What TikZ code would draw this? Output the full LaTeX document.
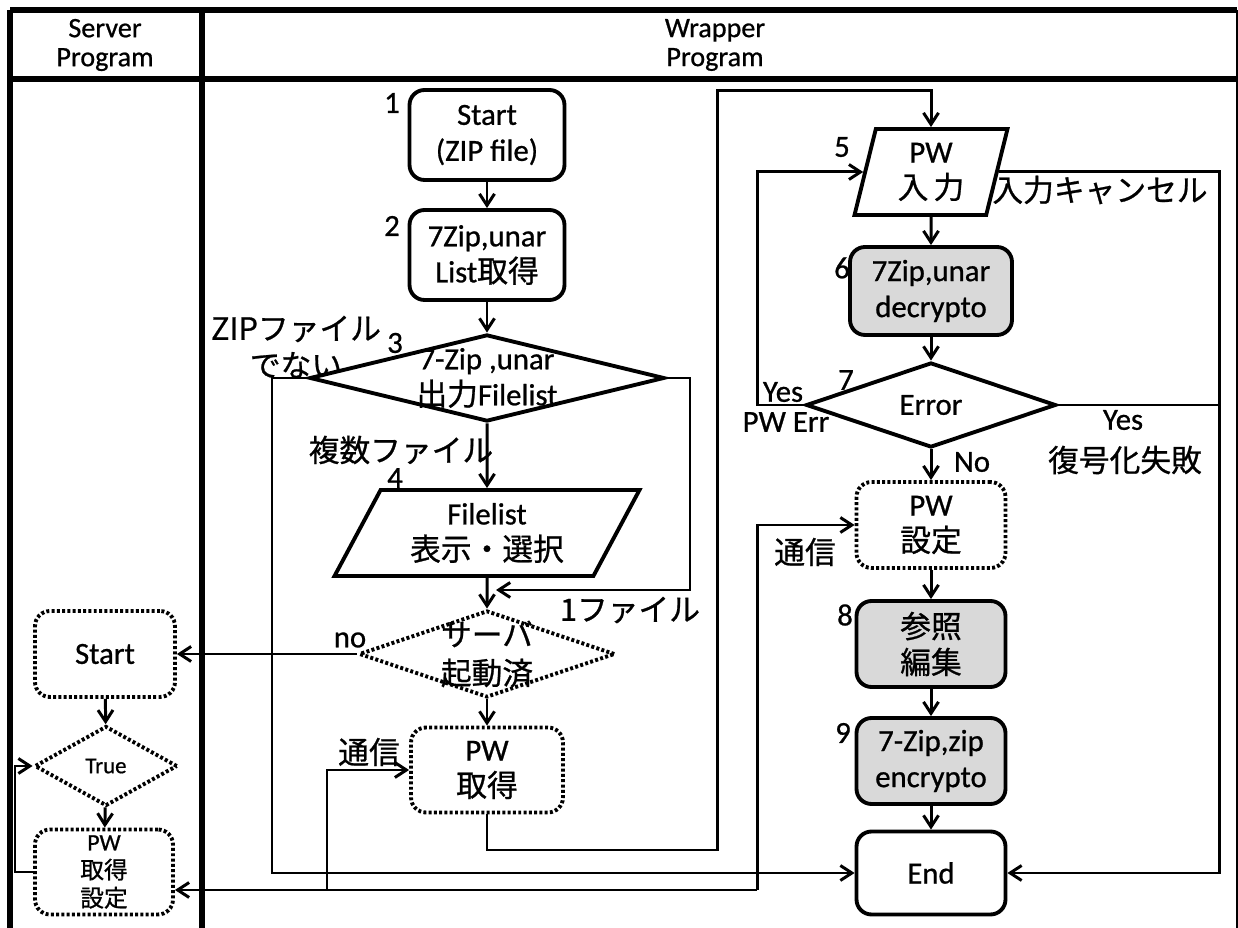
\documentclass[tikz,border=0pt]{standalone}
\usepackage{fontspec}
\setmainfont{Carlito}[FakeBold=0.8]
\newfontfamily\jp{Noto Sans CJK JP}[FakeBold=0.8]
\usetikzlibrary{positioning,arrows.meta,shapes.geometric}
\definecolor{boxgray}{gray}{0.85}
\tikzset{
  flow/.style={-{Straight Barb[length=2.3mm,width=3mm]}, line width=1.7pt},
  wire/.style={line width=1.7pt},
  frameline/.style={line width=3pt},
  dotline/.style={dash pattern=on 1.7pt off 1.3pt},
  stepbox/.style={draw, rounded corners=0.3cm, line width=2.2pt, minimum width=2.98cm, minimum height=1.72cm, align=center, inner sep=1pt},
  graybox/.style={stepbox, fill=boxgray},
  dotbox/.style={stepbox, dotline},
  iobox/.style={draw, trapezium, trapezium stretches body, line width=2.2pt, align=center, inner sep=1pt},
  decision/.style={draw, diamond, line width=2.2pt, inner sep=0pt},
  steplabel/.style={inner sep=0pt},
  edgelabel/.style={inner sep=0pt, align=center}
}
\begin{document}
\begin{tikzpicture}[x=0.02cm, y=-0.02cm, every node/.style={font=\fontsize{17.5}{20.5}\selectfont}]
  \useasboundingbox (0,0) rectangle (1238,928);
  \draw[frameline] (10,10) -- (1237,10);
  \draw[frameline] (10,79) -- (1237,79);
  \draw[frameline] (10,10) -- (10,928);
  \draw[frameline] (202,10) -- (202,928);
  \draw[line width=1.5pt] (1237,10) -- (1237,928);
  \node[align=center, inner sep=0pt, font=\fontsize{16}{16.5}\selectfont] (hserver) at (105,45) {Server\\Program};
  \node[align=center, inner sep=0pt, font=\fontsize{16}{16.5}\selectfont] (hwrapper) at (715,45) {Wrapper\\Program};

  \node[stepbox, minimum width=3.1cm, minimum height=1.8cm] (start) at (487,135) {Start\\(ZIP file)};
  \node[stepbox, minimum width=3.1cm, minimum height=1.8cm] (list) at (487,255) {7Zip,unar\\List{\jp 取得}};
  \node[decision, minimum width=7.1cm, minimum height=1.74cm,
        label={[edgelabel]center:{7-Zip ,unar\\{\jp 出力}Filelist}}] (check) at (487,378) {};
  \node[iobox, trapezium left angle=54, trapezium right angle=126, minimum width=6.1cm, minimum height=1.72cm] (flist) at (487,533) {Filelist\\{\jp 表示・選択}};
  \node[decision, dotline, minimum width=5.12cm, minimum height=1.74cm,
        label={[edgelabel, font=\fontsize{17.5}{22}\selectfont\jp]center:{サーバ\\起動済}}] (srvchk) at (487,654) {};
  \node[dotbox, minimum width=3.04cm, minimum height=1.7cm] (pwget) at (487,770) {PW\\{\jp 取得}};

  \node[iobox, trapezium left angle=71, trapezium right angle=109, minimum width=3.06cm, minimum height=1.72cm] (pwin) at (931,172) {PW\\{\jp 入\,力}};
  \node[graybox, minimum width=3.24cm, minimum height=1.76cm] (decr) at (931,291) {7Zip,unar\\decrypto};
  \node[decision, minimum width=5cm, minimum height=1.7cm, label={[edgelabel]center:Error}] (err) at (931,405) {};
  \node[dotbox] (pwset) at (931,525) {PW\\{\jp 設定}};
  \node[graybox] (edit) at (931,644) {{\jp 参照}\\{\jp 編集}};
  \node[graybox] (encr) at (931,761) {7-Zip,zip\\encrypto};
  \node[stepbox, minimum height=1.66cm] (end) at (931,873) {End};

  \node[dotbox, minimum width=2.8cm] (sstart) at (105,654) {Start};
  \node[decision, dotline, minimum width=2.86cm, minimum height=1.6cm,
        label={[edgelabel, font=\fontsize{13}{15}\selectfont]center:True}] (strue) at (106,766) {};
  \node[dotbox, minimum width=2.76cm, minimum height=1.7cm, font=\fontsize{13.5}{16}\selectfont] (spw) at (104,872) {PW\\{\jp 取得}\\{\jp 設定}};

  \node[steplabel] at (392,103) {1};
  \node[steplabel] at (392,226) {2};
  \node[steplabel] at (395,343) {3};
  \node[steplabel] at (395,478) {4};
  \node[steplabel] at (842,147) {5};
  \node[steplabel] at (842,268) {6};
  \node[steplabel] at (846,380) {7};
  \node[steplabel] at (845,615) {8};
  \node[steplabel] at (843,733) {9};

  \draw[flow] (start) -- (list);
  \draw[flow] (list) -- (check);
  \draw[flow] (check) -- (flist);
  \draw[flow] (flist) -- (srvchk);
  \draw[flow] (srvchk) -- (pwget);
  \coordinate (join1) at (496,590);
  \draw[flow] (check.east) -| (690,590) -- (join1);
  \draw[flow] (check.west) -- (272,378) |- (end.west);
  \draw[flow] (srvchk.west) -- (sstart.east);
  \draw[flow] (sstart) -- (strue);
  \draw[flow] (strue) -- (spw);
  \draw[flow] (spw.west) -- (15,872) |- (strue.west);
  \coordinate (comm) at (757,890);
  \draw[flow] (comm) -- (spw.east |- comm);
  \draw[flow] (comm) |- (pwset.west);
  \draw[flow] (327,890) |- (pwget.west);
  \draw[flow] (pwget.south) -- (487,850) -| (717,91) -| (pwin.north);
  \draw[flow] (pwin) -- (decr);
  \draw[flow] (decr) -- (err);
  \draw[flow] (err.west) -- (757,405) |- (pwin.west);
  \coordinate (rc) at (1219,0);
  \draw[wire] (err.east) -- (err.east -| rc);
  \draw[flow] (pwin.east) -| (rc |- end.east) -- (end.east);
  \draw[flow] (err) -- (pwset);
  \draw[flow] (pwset) -- (edit);
  \draw[flow] (edit) -- (encr);
  \draw[flow] (encr) -- (end);

  \node[edgelabel, font=\fontsize{17.5}{21}\selectfont\jp] at (296,347) {ZIPファイル\\でない};
  \node[edgelabel, font=\fontsize{17.5}{21}\selectfont\jp] at (401,450) {複数ファイル};
  \node[edgelabel, font=\fontsize{17.5}{21}\selectfont\jp] at (630,610) {1ファイル};
  \node[edgelabel] at (350,640) {no};
  \node[edgelabel, font=\fontsize{17.5}{21}\selectfont\jp] at (369,752) {通信};
  \node[edgelabel, font=\fontsize{17.5}{21}\selectfont\jp] at (805,552) {通信};
  \node[edgelabel, font=\fontsize{17.5}{21}\selectfont\jp] at (1100,190) {入力キャンセル};
  \node[edgelabel] at (783,392) {Yes};
  \node[edgelabel] at (786,422) {PW Err};
  \node[edgelabel] at (1123,420) {Yes};
  \node[edgelabel, font=\fontsize{17.5}{21}\selectfont\jp] at (1125,460) {復号化失敗};
  \node[edgelabel] at (972,462) {No};
\end{tikzpicture}
\end{document}
